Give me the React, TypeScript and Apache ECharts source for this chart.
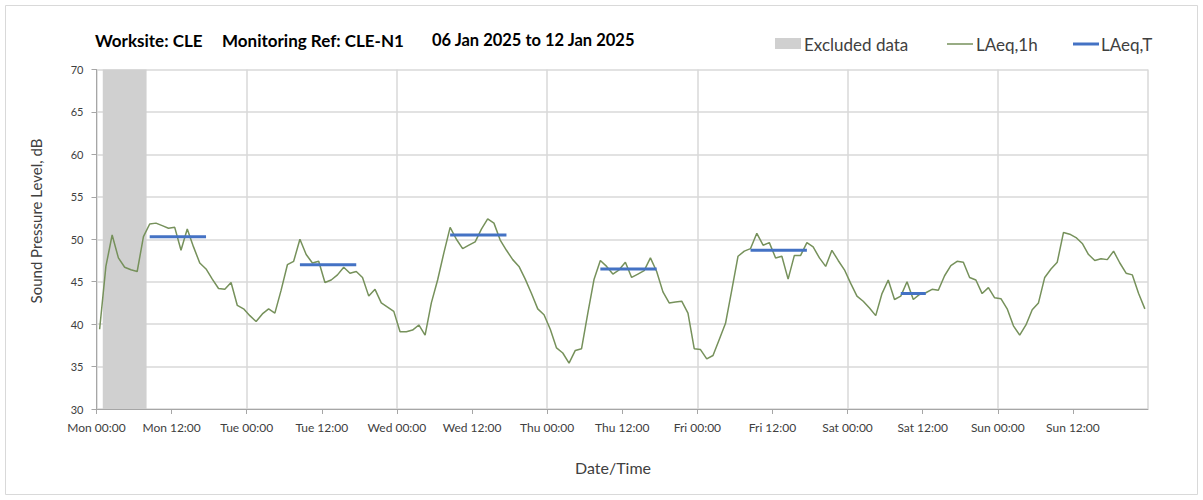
import React, { useEffect, useRef } from "react";
import * as echarts from "echarts";

const dayNames = ["Mon", "Tue", "Wed", "Thu", "Fri", "Sat", "Sun"];
const yTicks = { min: 30, max: 70, interval: 5 };
const hoursInWeek = 168;

// Hourly LAeq,1h values (hour 0 = Mon 00:00)
const laeq1h = [
  39.4, 46.8, 50.5, 47.8, 46.7, 46.4, 46.2, 50.3, 51.8, 51.9, 51.6, 51.3,
  51.4, 48.7, 51.2, 49.1, 47.2, 46.5, 45.3, 44.2, 44.1, 44.9, 42.2, 41.8,
  41.0, 40.3, 41.2, 41.8, 41.3, 44.0, 47.0, 47.4, 50.0, 48.2, 47.2, 47.4,
  44.9, 45.2, 45.8, 46.7, 46.0, 46.2, 45.5, 43.3, 44.1, 42.5, 42.0, 41.5,
  39.1, 39.1, 39.3, 39.9, 38.7, 42.5, 45.2, 48.4, 51.4, 50.0, 48.9, 49.3,
  49.7, 51.2, 52.4, 51.9, 49.9, 48.7, 47.6, 46.8, 45.3, 43.6, 41.8, 41.1,
  39.4, 37.2, 36.6, 35.4, 36.9, 37.1, 41.3, 45.3, 47.5, 46.8, 45.9, 46.4,
  47.3, 45.5, 45.9, 46.3, 47.8, 46.2, 43.8, 42.5, 42.6, 42.7, 41.3, 37.1,
  37.0, 35.9, 36.3, 38.2, 40.1, 44.0, 48.0, 48.6, 48.9, 50.7, 49.3, 49.6,
  47.8, 48.0, 45.3, 48.1, 48.1, 49.6, 49.1, 47.8, 46.8, 48.7, 47.5, 46.4,
  44.8, 43.3, 42.7, 41.9, 41.0, 43.6, 45.2, 42.9, 43.3, 45.0, 42.9, 43.5,
  43.7, 44.1, 44.0, 45.7, 46.9, 47.4, 47.3, 45.5, 45.2, 43.6, 44.3, 43.1,
  43.0, 41.8, 39.8, 38.7, 39.9, 41.7, 42.5, 45.5, 46.5, 47.3, 50.8, 50.6,
  50.2, 49.5, 48.2, 47.5, 47.7, 47.6, 48.6, 47.2, 46.0, 45.8, 43.6, 41.8,
];

// LAeq,T periods (start hour, end hour, level)
const periodStart = [8, 32, 56, 80, 104, 128];
const periodEnd = [17, 41, 65, 89, 113, 132];
const periodLevel = [50.3, 47.0, 50.5, 46.5, 48.7, 43.6];

// Excluded data (hours)
const excludedStart = 1;
const excludedEnd = 8;

const titleParts = ["Worksite: CLE", "Monitoring Ref: CLE-N1", "06 Jan 2025 to 12 Jan 2025"];
const legendNames = ["Excluded data", "LAeq,1h", "LAeq,T"];
const yAxisName = "Sound Pressure Level, dB";
const xAxisName = "Date/Time";

const FONT = "Lato, 'Open Sans', sans-serif";
const GREEN = "#76915b";
const BLUE = "#4472c4";
const GREY = "#d0d0d0";
const GRID_C = "#d9d9d9";
const TEXT_C = "#404040";

export default function App() {
  const ref = useRef<HTMLDivElement>(null);
  useEffect(() => {
    if (!ref.current) return;
    const chart = echarts.init(ref.current, undefined, { renderer: "svg" });

    const lineData = laeq1h.map((v, i) => [i + 0.5, v]);
    const periodSeries = periodStart.map((s, k) => ({
      type: "line",
      name: "LAeq,T",
      xAxisIndex: 0,
      yAxisIndex: 0,
      data: [
        [s + 0.5, periodLevel[k]],
        [periodEnd[k] + 0.5, periodLevel[k]],
      ],
      symbol: "none",
      lineStyle: { color: BLUE, width: 3 },
      z: 4,
      silent: true,
    }));

    const option: any = {
      animation: false,
      backgroundColor: "#ffffff",
      grid: { left: 96.5, right: 55, top: 69.5, bottom: 91, containLabel: false },
      xAxis: [
        {
          type: "value",
          min: 0,
          max: hoursInWeek,
          interval: 12,
          axisLine: { show: true, lineStyle: { color: "#a6a6a6", width: 1 } },
          axisTick: { show: true, length: 5, lineStyle: { color: "#a6a6a6" } },
          splitLine: { show: false },
          axisLabel: {
            color: TEXT_C,
            fontFamily: FONT,
            fontSize: 12,
            margin: 12,
            showMaxLabel: false,
            formatter: (v: number) => {
              if (v >= hoursInWeek) return "";
              const d = dayNames[Math.floor(v / 24)];
              const h = v % 24 === 0 ? "00:00" : "12:00";
              return d + " " + h;
            },
          },
        },
        {
          type: "value",
          min: 0,
          max: hoursInWeek,
          interval: 24,
          position: "bottom",
          axisLine: { show: false },
          axisTick: { show: false },
          axisLabel: { show: false },
          splitLine: { show: true, lineStyle: { color: GRID_C, width: 1.5 } },
        },
      ],
      yAxis: {
        type: "value",
        min: yTicks.min,
        max: yTicks.max,
        interval: yTicks.interval,
        axisLine: { show: true, lineStyle: { color: "#a6a6a6", width: 1 } },
        axisTick: { show: true, length: 5, lineStyle: { color: "#a6a6a6" } },
        axisLabel: { color: TEXT_C, fontFamily: FONT, fontSize: 11, margin: 13 },
        splitLine: { show: true, lineStyle: { color: GRID_C, width: 1.5 } },
      },
      series: [
        {
          type: "line",
          name: "LAeq,1h",
          data: lineData,
          symbol: "none",
          lineStyle: { color: GREEN, width: 1.5 },
          z: 3,
          silent: true,
          markArea: {
            silent: true,
            itemStyle: { color: GREY },
            data: [[{ xAxis: excludedStart }, { xAxis: excludedEnd }]],
          },
        },
        ...periodSeries,
      ],
      graphic: [
        {
          type: "rect",
          shape: { x: 5.5, y: 5.5, width: 1192, height: 489 },
          style: { fill: "none", stroke: "#d9d9d9", lineWidth: 1 },
          silent: true,
        },
        {
          type: "text",
          x: 95,
          y: 40,
          style: { text: titleParts[0], font: `bold 17px ${FONT}`, fill: "#000", textVerticalAlign: "middle" },
        },
        {
          type: "text",
          x: 222,
          y: 40,
          style: { text: titleParts[1], font: `bold 17px ${FONT}`, fill: "#000", textVerticalAlign: "middle" },
        },
        {
          type: "text",
          x: 432,
          y: 40,
          style: { text: titleParts[2], font: `bold 16.5px ${FONT}`, fill: "#000", textVerticalAlign: "middle" },
        },
        // legend
        { type: "rect", shape: { x: 775, y: 38, width: 26, height: 11 }, style: { fill: GREY } },
        {
          type: "text",
          x: 804,
          y: 44,
          style: { text: legendNames[0], font: `17px ${FONT}`, fill: TEXT_C, textVerticalAlign: "middle" },
        },
        { type: "line", shape: { x1: 947, y1: 44, x2: 973, y2: 44 }, style: { stroke: GREEN, lineWidth: 1.5 } },
        {
          type: "text",
          x: 976,
          y: 44,
          style: { text: legendNames[1], font: `17px ${FONT}`, fill: TEXT_C, textVerticalAlign: "middle" },
        },
        { type: "line", shape: { x1: 1073, y1: 44, x2: 1099, y2: 44 }, style: { stroke: BLUE, lineWidth: 3 } },
        {
          type: "text",
          x: 1101,
          y: 44,
          style: { text: legendNames[2], font: `17px ${FONT}`, fill: TEXT_C, textVerticalAlign: "middle" },
        },
        // axis names
        {
          type: "text",
          x: 36,
          y: 221,
          rotation: Math.PI / 2,
          style: {
            text: yAxisName,
            font: `15px ${FONT}`,
            fill: TEXT_C,
            textAlign: "center",
            textVerticalAlign: "middle",
          },
        },
        {
          type: "text",
          x: 613,
          y: 467,
          style: {
            text: xAxisName,
            font: `16px ${FONT}`,
            fill: TEXT_C,
            textAlign: "center",
            textVerticalAlign: "middle",
          },
        },
      ],
    };
    chart.setOption(option);
    return () => chart.dispose();
  }, []);
  return (
    <div
      ref={ref}
      style={{ position: "fixed", left: 0, top: 0, width: 1203, height: 500, background: "#fff" }}
    />
  );
}
